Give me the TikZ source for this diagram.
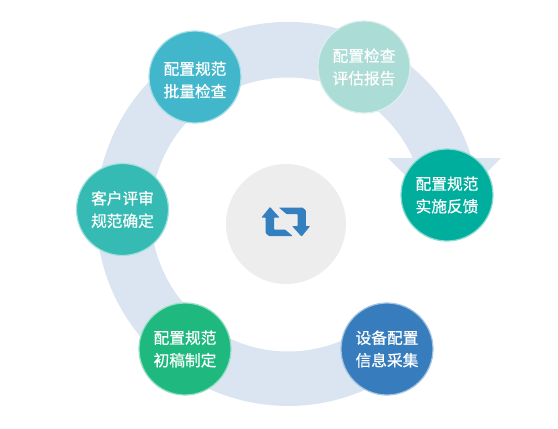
\documentclass[tikz,border=0pt]{standalone}
\usepackage{fontspec}
\setmainfont[FakeBold=0.6]{Noto Sans CJK SC}
\definecolor{ringblue}{HTML}{DAE5F1}
\definecolor{hubgray}{HTML}{EDEDED}
\definecolor{iconblue}{HTML}{337FBF}
\definecolor{stepa}{HTML}{00AE9D}
\definecolor{stepb}{HTML}{377DBE}
\definecolor{stepc}{HTML}{1FB97F}
\definecolor{stepd}{HTML}{35BBB3}
\definecolor{stepe}{HTML}{42B7CB}
\definecolor{stepf}{HTML}{ABDCD6}
\tikzset{
  steptext/.style={align=center,text=white,font=\fontsize{15.7}{22.5}\selectfont},
  stepnode/.style={circle,minimum size=92pt,inner sep=0pt,line width=1.2pt,steptext},
  halfloop/.pic={\fill[iconblue,rounded corners=0.6pt] (-15.8,-14.8)--(-6.3,-4.3)--(-11.8,-4.3)--(-11.8,7.7)--(-0.8,7.7)--(6.9,14.2)--(-17,14.2)--(-20.1,11.2)--(-20.1,-4.3)--(-24.3,-4.3)--cycle;}
}
\begin{document}
\begin{tikzpicture}[x=1pt,y=-1pt]
  \useasboundingbox (0,0) rectangle (558,429);
  % ring with arrow head
  \fill[ringblue] (471.6,157.5) arc[start angle=-17.1,end angle=-306.3,radius=192] -- (369.1,324.9) arc[start angle=-306.3,end angle=-24.4,radius=137] -- cycle;
  \fill[ringblue] (388,158)--(501,158)--(445,215)--cycle;
  % centre
  \node[circle,fill=hubgray,minimum size=120pt,inner sep=0pt] (hub) at (286,224) {};
  \pic at (285.8,221.8) {halfloop};
  \pic[rotate=180] at (285.8,221.8) {halfloop};
  % steps
  \node[stepnode,fill=stepa,draw=stepa!45!white] (feedback) at (447,195) {配置规范\\实施反馈};
  \node[stepnode,fill=stepb,draw=stepb!45!white] (collect) at (387,349) {设备配置\\信息采集};
  \node[stepnode,fill=stepc,draw=stepc!45!white] (draft) at (185,349) {配置规范\\初稿制定};
  \node[stepnode,fill=stepd,draw=stepd!45!white] (confirm) at (122.5,209.5) {客户评审\\规范确定};
  \node[stepnode,fill=stepe,draw=stepe!45!white] (batch) at (195,77) {};
  \node[steptext] (batchtext) at (195,80) {配置规范\\批量检查};
  \node[stepnode,fill=stepf,draw=stepf!45!white] (report) at (364,67) {配置检查\\评估报告};
\end{tikzpicture}
\end{document}
